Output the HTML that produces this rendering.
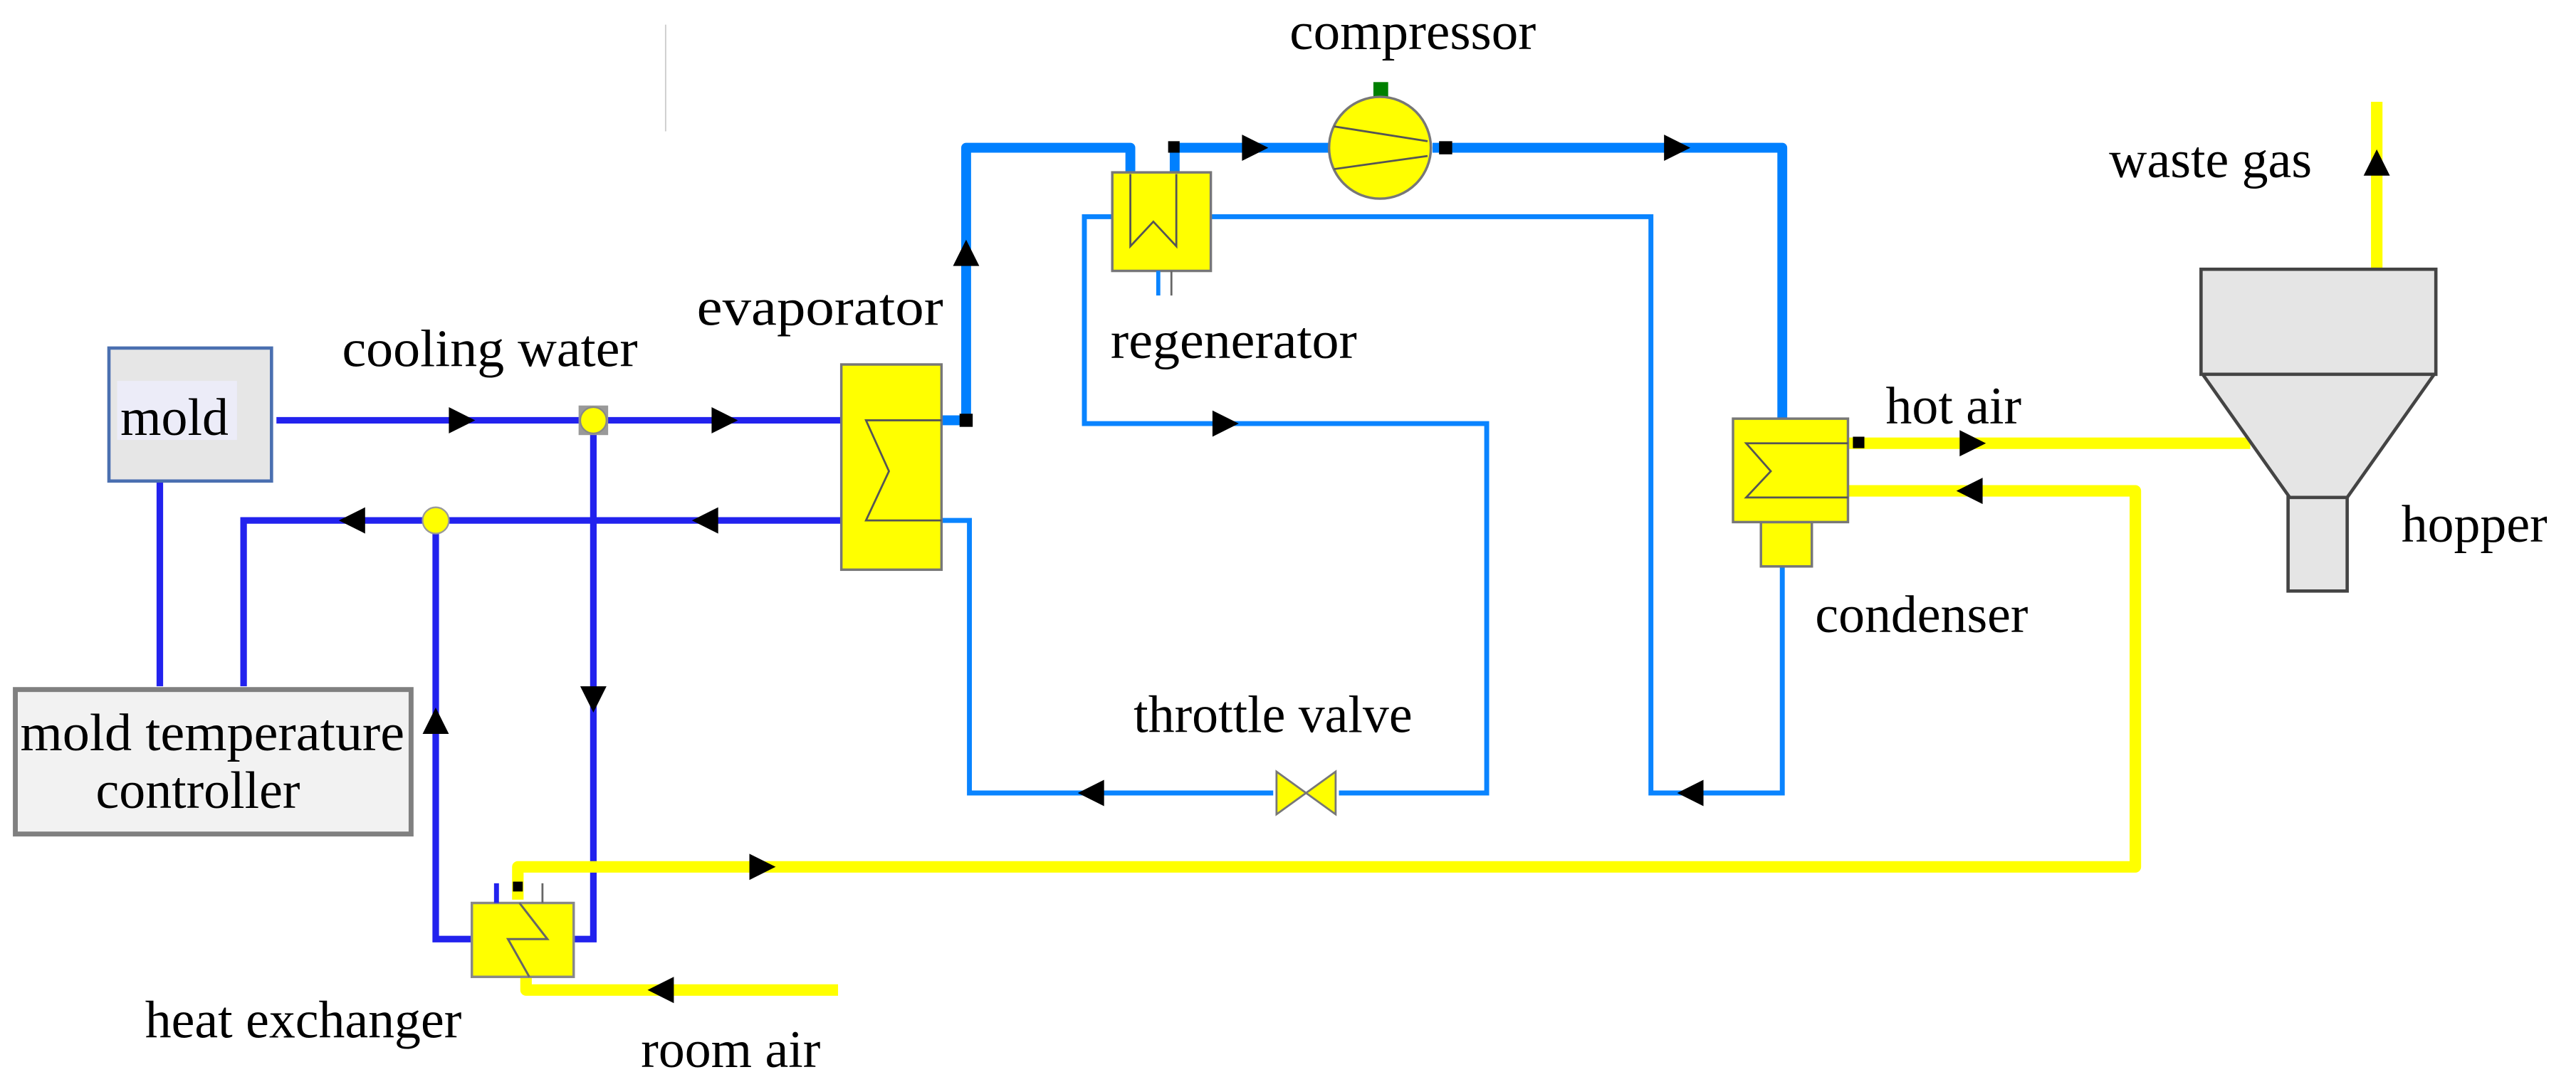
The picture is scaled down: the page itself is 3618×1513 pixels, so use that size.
<!DOCTYPE html>
<html><head><meta charset="utf-8"><style>
html,body{margin:0;padding:0;background:#fff;}
svg{display:block;}
text{font-family:"Liberation Serif",serif;fill:#000;}
</style></head><body>
<svg width="3618" height="1513" viewBox="0 0 1568 656" xmlns="http://www.w3.org/2000/svg">
<defs>
<path id="ar" d="M-7,-8 L9,0 L-7,8 Z" fill="#000"/>
</defs>
<line x1="405" y1="15" x2="405" y2="80" stroke="#ccc" stroke-width="0.8"/>
<g stroke="#2222ee" stroke-width="4" fill="none">
<path d="M168 256 H512"/>
<path d="M512 317 H148 V418"/>
<path d="M97 293 V418"/>
<path d="M361 256 V572 H349"/>
<path d="M265 317 V572 H287"/>
</g>
<rect x="352" y="247" width="18" height="18" fill="#999"/>
<circle cx="361" cy="256" r="8" fill="#ffff00" stroke="#888" stroke-width="1"/>
<circle cx="265" cy="317" r="8" fill="#ffff00" stroke="#999" stroke-width="1"/>
<use href="#ar" transform="translate(280,256)"/>
<use href="#ar" transform="translate(440,256)"/>
<use href="#ar" transform="translate(215,317) rotate(180)"/>
<use href="#ar" transform="translate(430,317) rotate(180)"/>
<use href="#ar" transform="translate(361,425) rotate(90)"/>
<use href="#ar" transform="translate(265,440) rotate(-90)"/>
<g stroke="#0a84ff" stroke-width="3" fill="none">
<path d="M737 132 H1005 V483 H1085 V345"/>
<path d="M677 132 H660 V258 H905 V483 H815"/>
<path d="M775 483 H590 V317 H573"/>
</g>
<g stroke="#0080ff" stroke-width="6" fill="none" stroke-linejoin="round">
<path d="M573 256 H588 V90 H688 V105"/>
<path d="M715 105 V90 H810"/>
<path d="M872 90 H1085 V255"/>
</g>
<rect x="584" y="252" width="8" height="8" fill="#000"/>
<rect x="711" y="86" width="7" height="7" fill="#000"/>
<rect x="876" y="86" width="8" height="8" fill="#000"/>
<use href="#ar" transform="translate(588,155) rotate(-90)"/>
<use href="#ar" transform="translate(763,90)"/>
<use href="#ar" transform="translate(1020,90)"/>
<use href="#ar" transform="translate(745,258)"/>
<use href="#ar" transform="translate(665,483) rotate(180)"/>
<use href="#ar" transform="translate(1030,483) rotate(180)"/>
<path d="M777 470 L795 483 L777 496 Z M813 470 L795 483 L813 496 Z" fill="#ffff00" stroke="#777" stroke-width="1.2"/>
<rect x="677" y="105" width="60" height="60" fill="#ffff00" stroke="#777" stroke-width="1.5"/>
<path d="M688 106 V150 L702 135 L716 150 V106" fill="none" stroke="#555" stroke-width="1.2"/>
<line x1="705" y1="165" x2="705" y2="180" stroke="#0a84ff" stroke-width="2.5"/>
<line x1="713" y1="165" x2="713" y2="180" stroke="#666" stroke-width="1.2"/>
<rect x="836" y="50" width="9" height="9" fill="#008000"/>
<circle cx="840" cy="90" r="31" fill="#ffff00" stroke="#777" stroke-width="1.5"/>
<line x1="812" y1="77" x2="869" y2="86" stroke="#555" stroke-width="1.2"/>
<line x1="812" y1="103" x2="869" y2="95" stroke="#555" stroke-width="1.2"/>
<rect x="512" y="222" width="61" height="125" fill="#ffff00" stroke="#777" stroke-width="1.5"/>
<path d="M573 256 H527 L541 287 L527 317 H573" fill="none" stroke="#555" stroke-width="1.2"/>
<g stroke="#ffff00" stroke-width="7" fill="none" stroke-linejoin="round">
<path d="M1125 270 H1370"/>
<path d="M1125 299 H1300 V528 H315 V548"/>
<path d="M510 603 H320 V590"/>
<path d="M1447 164 V62"/>
</g>
<rect x="1128" y="266" width="7" height="7" fill="#000"/>
<rect x="312" y="537" width="6" height="6" fill="#000"/>
<use href="#ar" transform="translate(1200,270)"/>
<use href="#ar" transform="translate(1200,299) rotate(180)"/>
<use href="#ar" transform="translate(463,528)"/>
<use href="#ar" transform="translate(403,603) rotate(180)"/>
<use href="#ar" transform="translate(1447,100) rotate(-90)"/>
<rect x="1072" y="318" width="31" height="27" fill="#ffff00" stroke="#777" stroke-width="1.5"/>
<rect x="1055" y="255" width="70" height="63" fill="#ffff00" stroke="#777" stroke-width="1.5"/>
<path d="M1125 270 H1063 L1078 287 L1063 303 H1125" fill="none" stroke="#555" stroke-width="1.2"/>
<rect x="287" y="550" width="62" height="45" fill="#ffff00" stroke="#888" stroke-width="1.5"/>
<path d="M316 550 L333 572 H309 L322 595" fill="none" stroke="#666" stroke-width="1.3"/>
<line x1="302" y1="538" x2="302" y2="550" stroke="#2222ee" stroke-width="3"/>
<line x1="330" y1="538" x2="330" y2="550" stroke="#666" stroke-width="1.2"/>
<g fill="#e5e5e5" stroke="#444" stroke-width="2">
<rect x="1340" y="164" width="143" height="64"/>
<path d="M1341 228 H1482 L1429 303 H1394 Z"/>
<rect x="1393" y="303" width="36" height="57"/>
</g>
<rect x="66" y="212" width="99" height="81" fill="#e6e6e6" stroke="#4a6fb0" stroke-width="2"/>
<rect x="71" y="232" width="73" height="36" fill="#ececf8"/>
<rect x="9" y="420" width="241" height="88" fill="#f2f2f2" stroke="#808080" stroke-width="3"/>
<g font-size="32">
<text x="73" y="265">mold</text>
<text x="208" y="223" textLength="180" lengthAdjust="spacingAndGlyphs">cooling water</text>
<text x="424" y="198" textLength="150" lengthAdjust="spacingAndGlyphs">evaporator</text>
<text x="785" y="30" textLength="150" lengthAdjust="spacingAndGlyphs">compressor</text>
<text x="676" y="218" textLength="150" lengthAdjust="spacingAndGlyphs">regenerator</text>
<text x="1148" y="258">hot air</text>
<text x="1284" y="108">waste gas</text>
<text x="1462" y="330">hopper</text>
<text x="1105" y="385">condenser</text>
<text x="690" y="446">throttle valve</text>
<text x="12" y="457" textLength="234" lengthAdjust="spacingAndGlyphs">mold temperature</text>
<text x="58" y="492">controller</text>
<text x="88" y="632">heat exchanger</text>
<text x="390" y="650">room air</text>
</g>
</svg>
</body></html>
